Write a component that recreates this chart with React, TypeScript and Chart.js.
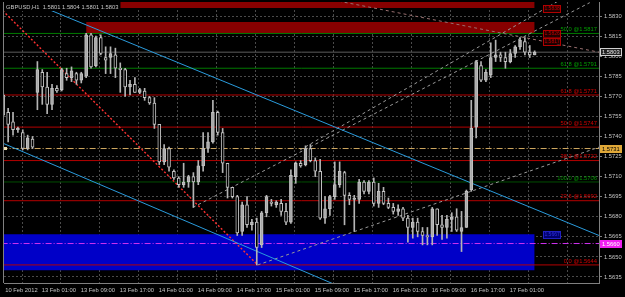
import React, { useEffect, useRef } from 'react';
import { Chart, registerables } from 'chart.js';

Chart.register(...registerables);

// ---- data (GBPUSD H1, 10 Feb 17:00 .. 17 Feb 06:00) ----
const symbol = 'GBPUSD';
const period = 'H1';

const opens = [
  1.5771, 1.5758, 1.5751, 1.5745, 1.5743, 1.5731, 1.5738, 1.5773, 1.5788, 1.5777,
  1.5764, 1.5776, 1.5775, 1.5787, 1.5784, 1.5787, 1.5782, 1.5785, 1.5816, 1.5793,
  1.5814, 1.5799, 1.5799, 1.5801, 1.5791, 1.5790, 1.5777, 1.5779, 1.5773, 1.5774,
  1.5769, 1.5765, 1.5749, 1.5721, 1.5731, 1.5714, 1.5709, 1.5704, 1.5706, 1.5710,
  1.5706, 1.5718, 1.5731, 1.5736, 1.5758, 1.5743, 1.5720, 1.5702, 1.5695, 1.5669,
  1.5689, 1.5674, 1.5676, 1.5659, 1.5683, 1.5691, 1.5689, 1.5690, 1.5684, 1.5676,
  1.5710, 1.5720, 1.5719, 1.5731, 1.5722, 1.5714, 1.5679, 1.5686, 1.5695, 1.5704,
  1.5713, 1.5696, 1.5693, 1.5693, 1.5706, 1.5699, 1.5706, 1.5690, 1.5699, 1.5690,
  1.5687, 1.5684, 1.5686, 1.5679, 1.5672, 1.5676, 1.5669, 1.5666, 1.5665, 1.5686,
  1.5674, 1.5672, 1.5678, 1.5680, 1.5669, 1.5672, 1.5700, 1.5747, 1.5793, 1.5782,
  1.5786, 1.5799, 1.5801, 1.5799, 1.5796, 1.5802, 1.5807, 1.5811, 1.5803, 1.5801,
];
const highs = [
  1.5772, 1.5761, 1.5758, 1.5747, 1.5745, 1.5741, 1.5740, 1.5796, 1.5790, 1.5788,
  1.5779, 1.5778, 1.5791, 1.5791, 1.5792, 1.5788, 1.5788, 1.5817, 1.5817, 1.5815,
  1.5816, 1.5807, 1.5807, 1.5806, 1.5795, 1.5791, 1.5782, 1.5784, 1.5776, 1.5776,
  1.5770, 1.5769, 1.5749, 1.5734, 1.5732, 1.5715, 1.5710, 1.5720, 1.5711, 1.5713,
  1.5722, 1.5743, 1.5743, 1.5767, 1.5759, 1.5746, 1.5720, 1.5702, 1.5696, 1.5691,
  1.5695, 1.5678, 1.5679, 1.5684, 1.5696, 1.5693, 1.5692, 1.5693, 1.5690, 1.5715,
  1.5721, 1.5722, 1.5733, 1.5734, 1.5724, 1.5723, 1.5695, 1.5696, 1.5721, 1.5721,
  1.5714, 1.5698, 1.5696, 1.5708, 1.5707, 1.5707, 1.5709, 1.5705, 1.5702, 1.5694,
  1.5690, 1.5689, 1.5687, 1.5681, 1.5679, 1.5679, 1.5672, 1.5672, 1.5687, 1.5686,
  1.5681, 1.5681, 1.5683, 1.5686, 1.5684, 1.5700, 1.5767, 1.5797, 1.5796, 1.5790,
  1.5810, 1.5812, 1.5803, 1.5803, 1.5805, 1.5808, 1.5814, 1.5814, 1.5808, 1.5804,
];
const lows = [
  1.5755, 1.5736, 1.5741, 1.5743, 1.5730, 1.5730, 1.5731, 1.5760, 1.5764, 1.5757,
  1.5760, 1.5773, 1.5774, 1.5782, 1.5781, 1.5779, 1.5780, 1.5784, 1.5791, 1.5792,
  1.5801, 1.5787, 1.5787, 1.5784, 1.5773, 1.5770, 1.5771, 1.5773, 1.5772, 1.5767,
  1.5764, 1.5746, 1.5719, 1.5719, 1.5714, 1.5708, 1.5702, 1.5702, 1.5702, 1.5687,
  1.5704, 1.5714, 1.5728, 1.5735, 1.5741, 1.5713, 1.5694, 1.5694, 1.5666, 1.5666,
  1.5672, 1.5670, 1.5644, 1.5657, 1.5680, 1.5688, 1.5687, 1.5681, 1.5674, 1.5675,
  1.5705, 1.5717, 1.5718, 1.5721, 1.5710, 1.5678, 1.5675, 1.5681, 1.5693, 1.5702,
  1.5674, 1.5689, 1.5669, 1.5690, 1.5697, 1.5697, 1.5688, 1.5687, 1.5689, 1.5686,
  1.5682, 1.5681, 1.5677, 1.5661, 1.5664, 1.5665, 1.5659, 1.5659, 1.5659, 1.5666,
  1.5663, 1.5664, 1.5669, 1.5669, 1.5654, 1.5672, 1.5699, 1.5739, 1.5781, 1.5781,
  1.5784, 1.5796, 1.5796, 1.5791, 1.5795, 1.5799, 1.5805, 1.5801, 1.5799, 1.5801,
];
const closes = [
  1.5756, 1.5749, 1.5745, 1.5746, 1.5731, 1.5739, 1.5732, 1.5790, 1.5777, 1.5764,
  1.5776, 1.5774, 1.5790, 1.5784, 1.5789, 1.5782, 1.5787, 1.5816, 1.5792, 1.5814,
  1.5802, 1.5797, 1.5802, 1.5791, 1.5790, 1.5777, 1.5779, 1.5773, 1.5775, 1.5769,
  1.5765, 1.5749, 1.5721, 1.5731, 1.5717, 1.5709, 1.5704, 1.5706, 1.5710, 1.5706,
  1.5718, 1.5731, 1.5736, 1.5758, 1.5743, 1.5720, 1.5702, 1.5695, 1.5668, 1.5689,
  1.5674, 1.5676, 1.5657, 1.5683, 1.5695, 1.5690, 1.5691, 1.5684, 1.5676, 1.5711,
  1.5720, 1.5718, 1.5731, 1.5722, 1.5714, 1.5679, 1.5686, 1.5695, 1.5704, 1.5714,
  1.5696, 1.5693, 1.5694, 1.5706, 1.5699, 1.5706, 1.5690, 1.5699, 1.5690, 1.5687,
  1.5684, 1.5686, 1.5679, 1.5672, 1.5676, 1.5669, 1.5666, 1.5665, 1.5686, 1.5674,
  1.5672, 1.5678, 1.5680, 1.5670, 1.5672, 1.5699, 1.5746, 1.5796, 1.5782, 1.5788,
  1.5799, 1.5801, 1.5799, 1.5796, 1.5802, 1.5807, 1.5812, 1.5803, 1.5801, 1.5803,
];

// time axis: bar index of each label / grid line
const xTickBars = [0, 8, 16, 24, 32, 40, 48, 56, 64, 72, 80, 88, 96, 104, 112, 120];
const xTickLabels = [
  '10 Feb 2012', '13 Feb 01:00', '13 Feb 09:00', '13 Feb 17:00', '14 Feb 01:00',
  '14 Feb 09:00', '14 Feb 17:00', '15 Feb 01:00', '15 Feb 09:00', '15 Feb 17:00',
  '16 Feb 01:00', '16 Feb 09:00', '16 Feb 17:00', '17 Feb 01:00', '', '',
];
const yTicks = [
  1.5635, 1.565, 1.5665, 1.568, 1.5695, 1.571, 1.5725, 1.574, 1.5755, 1.577,
  1.5785, 1.58, 1.5815, 1.583,
];

// Fibonacci levels
const fibNames = ['50.0', '61.8', '61.8', '50.0', '38.2', '100.0', '23.6', '0.0'];
const fibPrices = [1.5817, 1.5791, 1.5771, 1.5747, 1.5722, 1.5706, 1.5692, 1.5644];

// other horizontal levels
const tanLevel = 1.5731;
const magentaLevel = 1.566;

// rectangles: [startBar, endBar, top, bottom]
const redRectA = [17, 109, 1.5846, 1.5836];
const redRectB = [17, 109, 1.58255, 1.5817];
const blueRect = [-2, 109, 1.5667, 1.564];
const rectLabelTexts = ['1.5838', '1.5826', '1.5817', '1.5667'];
const rectLabelPrices = [1.58357, 1.5817, 1.58113, 1.56668];

// trend lines: [bar1, price1, bar2, price2]
const cyanUpper = [5.9, 1.5840, 122.2, 1.5666];
const cyanLower = [-0.1, 1.5735, 67.6, 1.5630];
const redDotted = [-0.1, 1.5834, 52.2, 1.5644];
const pinkDashed = [67.6, 1.5842, 122.2, 1.5803];
const grayLow = [52.2, 1.5644, 122.2, 1.5732];
const grayMid = [38.9, 1.5687, 120.3, 1.5840];
const grayHigh = [60.9, 1.5730, 114.2, 1.5842];

// ---- view ----
const xMin = 0.15;
const xMax = 122.2;
const yMin = 1.56305;
const yMax = 1.58405;

const FONT = '"Liberation Sans", Arial, sans-serif';
const TXT = '#C4C4C4';
const GRID = '#4A4A4A';
const AXIS = '#808080';
const RED_LINE = '#B40000';
const GREEN_LINE = '#007A00';
const fibLineColors = [GREEN_LINE, GREEN_LINE, RED_LINE, RED_LINE, RED_LINE, '#004E00', RED_LINE, RED_LINE];
const fibTextColors = ['#00A000', '#00A000', '#D40000', '#D40000', '#D40000', '#009000', '#D40000', '#D40000'];

function hLine(price: number, color: string, dash: number[], order: number) {
  return {
    type: 'line' as const,
    data: [{ x: xMin - 5, y: price }, { x: xMax + 5, y: price }],
    borderColor: color,
    borderWidth: 1,
    borderDash: dash,
    pointRadius: 0,
    fill: false,
    clip: 0,
    order,
  };
}

function segment(t: number[], color: string, dash: number[], order: number, width = 1) {
  return {
    type: 'line' as const,
    data: [{ x: t[0], y: t[1] }, { x: t[2], y: t[3] }],
    borderColor: color,
    borderWidth: width,
    borderDash: dash,
    pointRadius: 0,
    fill: false,
    clip: 0,
    order,
  };
}

function rect(r: number[], color: string) {
  return {
    type: 'line' as const,
    data: [{ x: r[0], y: r[2] }, { x: r[1], y: r[2] }],
    borderWidth: 0,
    borderColor: 'rgba(0,0,0,0)',
    backgroundColor: color,
    fill: { value: r[3] },
    pointRadius: 0,
    clip: 0,
    order: 20,
  };
}

export default function App() {
  const ref = useRef<HTMLCanvasElement>(null);

  useEffect(() => {
    document.body.style.margin = '0';
    document.body.style.background = '#000';
    const canvas = ref.current;
    if (!canvas) return;

    const bodyData = opens.map((o, i) => ({ x: i, y: [o, closes[i]] }));
    const wickData = opens.map((_, i) => ({ x: i, y: [lows[i], highs[i]] }));

    const overlay = {
      id: 'overlay',
      afterDatasetsDraw(chart: any) {
        const { ctx, chartArea: ca } = chart;
        const x = chart.scales.x;
        const y = chart.scales.y;
        ctx.save();
        ctx.font = `5.8px ${FONT}`;
        // fib labels
        ctx.textAlign = 'right';
        ctx.textBaseline = 'bottom';
        fibPrices.forEach((p, k) => {
          ctx.fillStyle = fibTextColors[k];
          ctx.fillText(`${fibNames[k]} @${p.toFixed(4)}`, ca.right - 2, y.getPixelForValue(p) - 1);
        });
        // rectangle price labels
        ctx.textAlign = 'left';
        ctx.textBaseline = 'middle';
        rectLabelPrices.forEach((p, k) => {
          const px = x.getPixelForValue(110.7);
          const py = y.getPixelForValue(p);
          const blue = k === 3;
          ctx.fillStyle = blue ? '#000070' : '#200000';
          ctx.fillRect(px, py - 3.5, 17, 7);
          ctx.strokeStyle = blue ? '#2020C0' : '#B00000';
          ctx.lineWidth = 1;
          ctx.strokeRect(Math.round(px) + 0.5, Math.round(py - 3.5) + 0.5, 17, 7);
          ctx.fillStyle = blue ? '#3030E0' : '#C00000';
          ctx.font = `5px ${FONT}`;
          ctx.fillText(rectLabelTexts[k], px + 1.5, py + 0.5);
        });
        // small tan marker at left of dash-dot line
        ctx.fillStyle = '#F0E0B0';
        ctx.fillRect(ca.left, y.getPixelForValue(tanLevel) - 1.5, 3, 3);
        // title
        ctx.font = `5.8px ${FONT}`;
        const n = closes.length - 1;
        const title = `${symbol},${period}  ${opens[n].toFixed(4)} ${highs[n].toFixed(4)} ${lows[n].toFixed(4)} ${closes[n].toFixed(4)}`;
        ctx.fillStyle = '#000';
        ctx.fillRect(ca.left + 1, ca.top, ctx.measureText(title).width + 3, 9);
        ctx.fillStyle = TXT;
        ctx.fillText(title, ca.left + 2, ca.top + 5);
        // left border
        ctx.strokeStyle = AXIS;
        ctx.beginPath();
        ctx.moveTo(ca.left - 0.5, ca.top);
        ctx.lineTo(ca.left - 0.5, ca.bottom);
        ctx.stroke();
        ctx.restore();
      },
      afterDraw(chart: any) {
        const { ctx, chartArea: ca } = chart;
        const y = chart.scales.y;
        ctx.save();
        ctx.font = `5.8px ${FONT}`;
        ctx.textAlign = 'left';
        ctx.textBaseline = 'middle';
        const badge = (p: number, fill: string, stroke: string, col: string) => {
          const py = Math.round(y.getPixelForValue(p));
          ctx.fillStyle = fill;
          ctx.fillRect(ca.right + 1, py - 4, 22, 8);
          ctx.strokeStyle = stroke;
          ctx.strokeRect(ca.right + 1.5, py - 3.5, 21, 7);
          ctx.fillStyle = col;
          ctx.fillText(p.toFixed(4), ca.right + 3, py + 0.5);
        };
        badge(closes[closes.length - 1], '#202020', '#D0D0D0', '#E0E0E0');
        badge(tanLevel, '#E0A838', '#E0A838', '#000000');
        badge(magentaLevel, '#F020F0', '#F020F0', '#FFFFFF');
        ctx.restore();
      },
    };

    const chart = new Chart(canvas, {
      type: 'bar',
      data: {
        datasets: [
          rect(redRectA, '#870000') as any,
          rect(redRectB, '#870000') as any,
          rect(blueRect, '#0000C8') as any,
          ...fibPrices.map((p, k) => hLine(p, fibLineColors[k], [], 8)),
          hLine(closes[closes.length - 1], '#5C5C5C', [], 8),
          hLine(tanLevel, '#D0A860', [6, 2, 1, 2], 7),
          hLine(magentaLevel, '#D030F0', [6, 2, 1, 2], 7),
          segment(cyanUpper, '#2A9BDC', [], 6),
          segment(cyanLower, '#2A9BDC', [], 6),
          segment(redDotted, '#FF3030', [2, 2], 6, 1.4),
          segment(pinkDashed, '#9A7070', [3, 3], 6),
          segment(grayLow, '#9A9A9A', [3, 3], 6),
          segment(grayMid, '#9A9A9A', [3, 3], 6),
          segment(grayHigh, '#9A9A9A', [3, 3], 6),
          {
            type: 'bar',
            data: wickData,
            backgroundColor: '#B4B4B4',
            barThickness: 1,
            grouped: false,
            borderWidth: 0,
            clip: 0,
            order: 2,
          } as any,
          {
            type: 'bar',
            data: bodyData,
            backgroundColor: (c: any) => {
              const i = c.dataIndex;
              return closes[i] >= opens[i] ? '#A8A8A8' : '#000000';
            },
            borderColor: '#C4C4C4',
            borderWidth: 1,
            borderSkipped: false,
            barThickness: 3,
            minBarLength: 1,
            grouped: false,
            clip: 0,
            order: 1,
          } as any,
        ],
      },
      options: {
        responsive: false,
        animation: false,
        devicePixelRatio: 1,
        events: [],
        layout: { padding: { left: 4, top: 2, right: 0, bottom: 0 } },
        plugins: { legend: { display: false }, tooltip: { enabled: false } },
        scales: {
          x: {
            type: 'linear',
            min: xMin,
            max: xMax,
            offset: false,
            afterBuildTicks: (s: any) => {
              s.ticks = xTickBars.map((b) => ({ value: Math.max(xMin, b - 0.35) }));
            },
            afterFit: (s: any) => {
              s.height = 14;
              s.paddingLeft = 0;
              s.paddingRight = 0;
            },
            ticks: {
              autoSkip: false,
              maxRotation: 0,
              minRotation: 0,
              align: 'start',
              labelOffset: 1.2,
              padding: 4,
              color: TXT,
              font: { family: FONT, size: 5.8 },
              callback: (_v: any, i: number) => xTickLabels[i] ?? '',
            },
            grid: {
              color: (c: any) => (c.index === 0 ? 'rgba(0,0,0,0)' : GRID),
              drawTicks: false,
            },
            border: { display: true, color: AXIS, dash: [2, 2] },
          },
          y: {
            type: 'linear',
            position: 'right',
            min: yMin,
            max: yMax,
            afterBuildTicks: (s: any) => {
              s.ticks = yTicks.map((v) => ({ value: v }));
            },
            afterFit: (s: any) => {
              s.width = 26;
              s.paddingTop = 0;
              s.paddingBottom = 0;
            },
            ticks: {
              padding: 2,
              color: TXT,
              font: { family: FONT, size: 5.8 },
              callback: (v: any) => Number(v).toFixed(4),
            },
            grid: { color: GRID, tickColor: AXIS, tickLength: 3, tickBorderDash: [] },
            border: { display: true, color: AXIS, dash: [2, 2] },
          },
        },
      } as any,
      plugins: [overlay],
    } as any);

    return () => chart.destroy();
  }, []);

  return <canvas ref={ref} width={625} height={297} style={{ display: 'block', width: 625, height: 297 }} />;
}
